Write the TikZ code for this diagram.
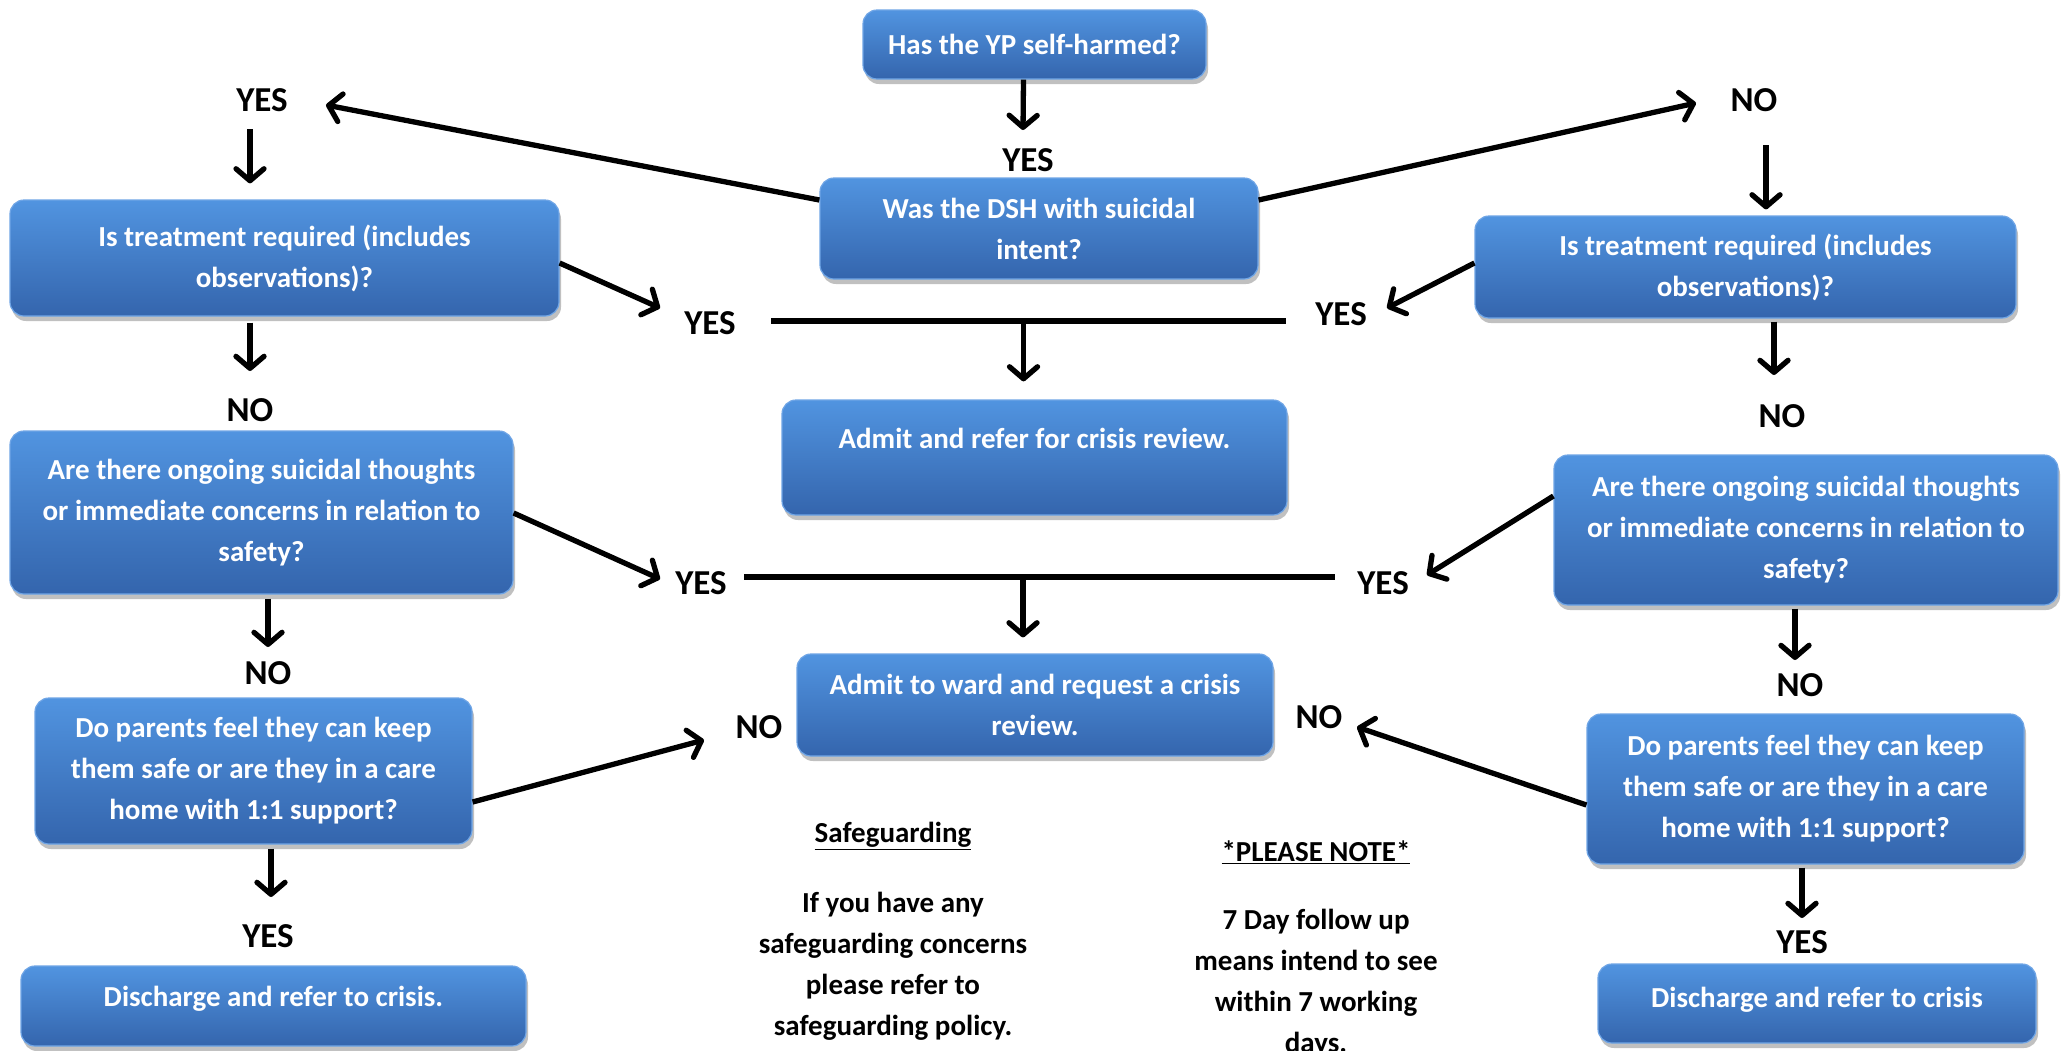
\documentclass[tikz,border=0pt]{standalone}
\usepackage{fontspec}
\setmainfont{Carlito}
\usetikzlibrary{arrows.meta,shadows,calc}
\definecolor{btop}{HTML}{5194E0}
\definecolor{bbot}{HTML}{3465AD}
\definecolor{bedge}{HTML}{6FA5E6}
\begin{document}
\begin{tikzpicture}[x=1pt,y=-1pt,
  box/.style={draw=bedge, line width=1.2pt, rounded corners=14pt,
    top color=btop, bottom color=bbot, text=white,
    font=\fontsize{29}{41}\selectfont\bfseries, align=center, inner sep=0pt,
    drop shadow={shadow xshift=2pt, shadow yshift=-5pt, opacity=0.35, fill=black!70}},
  lbl/.style={font=\fontsize{35}{42}\selectfont\bfseries, inner sep=2pt},
  note/.style={font=\fontsize{29}{41}\selectfont\bfseries, align=center, inner sep=0pt},
  arr/.style={line width=5.3pt, -{Straight Barb[length=12pt,width=28pt,round]}},
  ln/.style={line width=5.3pt}]
\useasboundingbox (0,0) rectangle (2062,1050);
\fill[white] (0,0) rectangle (2062,1050);

% boxes
\node[box, minimum width=343pt, minimum height=69pt] (top) at (1034.5,44.5) {Has the YP self-harmed?};
\node[box, minimum width=438pt, minimum height=101pt] (dsh) at (1039,228.5) {Was the DSH with suicidal\\intent?};
\node[box, minimum width=549pt, minimum height=116pt] (l1) at (284.5,258) {Is treatment required (includes\\observations)?};
\node[box, minimum width=503pt, minimum height=163pt] (l2) at (261.5,512.5) {Are there ongoing suicidal thoughts\\or immediate concerns in relation to\\safety?};
\node[box, minimum width=437pt, minimum height=146pt] (l3) at (253.5,771) {Do parents feel they can keep\\them safe or are they in a care\\home with 1:1 support?};
\node[box, minimum width=505pt, minimum height=80pt] (l4) at (273.5,1006) {Discharge and refer to crisis.\rule[-20pt]{0pt}{0pt}};
\node[box, minimum width=505pt, minimum height=115pt] (c3) at (1034.5,457.5) {Admit and refer for crisis review.\rule[-38pt]{0pt}{0pt}};
\node[box, minimum width=476pt, minimum height=102pt] (c4) at (1035,705) {Admit to ward and request a crisis\\review.};
\node[box, minimum width=541pt, minimum height=102pt] (r1) at (1745.5,267) {Is treatment required (includes\\observations)?};
\node[box, minimum width=504pt, minimum height=150pt] (r2) at (1806,530) {Are there ongoing suicidal thoughts\\or immediate concerns in relation to\\safety?};
\node[box, minimum width=437pt, minimum height=150pt] (r3) at (1805.5,789) {Do parents feel they can keep\\them safe or are they in a care\\home with 1:1 support?};
\node[box, minimum width=438pt, minimum height=79pt] (r4) at (1817,1003.5) {Discharge and refer to crisis\rule[-12pt]{0pt}{0pt}};

% labels
\node[lbl] (yes0) at (1028,160) {YES};
\node[lbl] (yesL) at (262,100) {YES};
\node[lbl] (noR) at (1754,100) {NO};
\node[lbl] (yesA) at (710,323) {YES};
\node[lbl] (yesB) at (1341,314) {YES};
\node[lbl] (noL1) at (250,410) {NO};
\node[lbl] (noR1) at (1782,416) {NO};
\node[lbl] (yesC) at (701,583) {YES};
\node[lbl] (yesD) at (1383,583) {YES};
\node[lbl] (noL2) at (268,673) {NO};
\node[lbl] (noR2) at (1800,685) {NO};
\node[lbl] (noC) at (759,727) {NO};
\node[lbl] (noD) at (1319,717) {NO};
\node[lbl] (yesL3) at (268,936) {YES};
\node[lbl] (yesR3) at (1802,942) {YES};

% notes
\node[note] (sgT) at (893,836) {\underline{Safeguarding}};
\node[note] (sgB) at (893,966) {If you have any\\safeguarding concerns\\please refer to\\safeguarding policy.};
\node[note] (pnT) at (1316,852) {\underline{*PLEASE NOTE*}};
\node[note] (pnB) at (1316,983) {7 Day follow up\\means intend to see\\within 7 working\\days.};

% vertical arrows
\draw[arr] ($(top.south)+(-11,0)$) -- ($(yes0)+(-5,-30)$);
\draw[arr] ($(yesL)+(-12,29)$) -- ($(l1.north)+(-34.5,-16)$);
\draw[arr] ($(l1.south)+(-34.5,6)$) -- ($(noL1)+(0,-39)$);
\draw[arr] ($(l2.south)+(6.5,4)$) -- ($(noL2)+(0,-26)$);
\draw[arr] ($(l3.south)+(17.5,4)$) -- ($(yesL3)+(3,-39)$);
\draw[arr] ($(noR)+(12,45)$) -- ($(r1.north)+(20.5,-6)$);
\draw[arr] ($(r1.south)+(28.5,3)$) -- ($(noR1)+(-8,-41)$);
\draw[arr] ($(r2.south)+(-11,3)$) -- ($(noR2)+(-5,-25)$);
\draw[arr] ($(r3.south)+(-3.5,3)$) -- ($(yesR3)+(0,-24)$);
\draw[arr] ($(c3.north)+(-11,-79)$) -- ($(c3.north)+(-11,-18)$);
\draw[arr] ($(c4.north)+(-12,-77)$) -- ($(c4.north)+(-12,-16)$);

% diagonal arrows
\draw[arr] ($(dsh.west)+(0,-28.5)$) -- ($(yesL)+(64,5)$);
\draw[arr] ($(dsh.east)+(0,-28.5)$) -- ($(noR)+(-58,3)$);
\draw[arr] ($(l1.east)+(0,5)$) -- ($(yesA)+(-50,-15)$);
\draw[arr] ($(r1.west)+(0,-4)$) -- ($(yesB)+(46,-6)$);
\draw[arr] ($(l2.east)+(0,0.5)$) -- ($(yesC)+(-41,-4)$);
\draw[arr] ($(r2.west)+(0,-34)$) -- ($(yesD)+(44,-8)$);
\draw[arr] ($(l3.east)+(0,31)$) -- ($(noC)+(-55,13)$);
\draw[arr] ($(r3.west)+(0,16)$) -- ($(noD)+(38,10)$);

% horizontal joining lines
\draw[ln] ($(yesA)+(61,-2)$) -- ($(yesB)+(-55,7)$);
\draw[ln] ($(yesC)+(43,-6)$) -- ($(yesD)+(-48,-6)$);
\end{tikzpicture}
\end{document}
